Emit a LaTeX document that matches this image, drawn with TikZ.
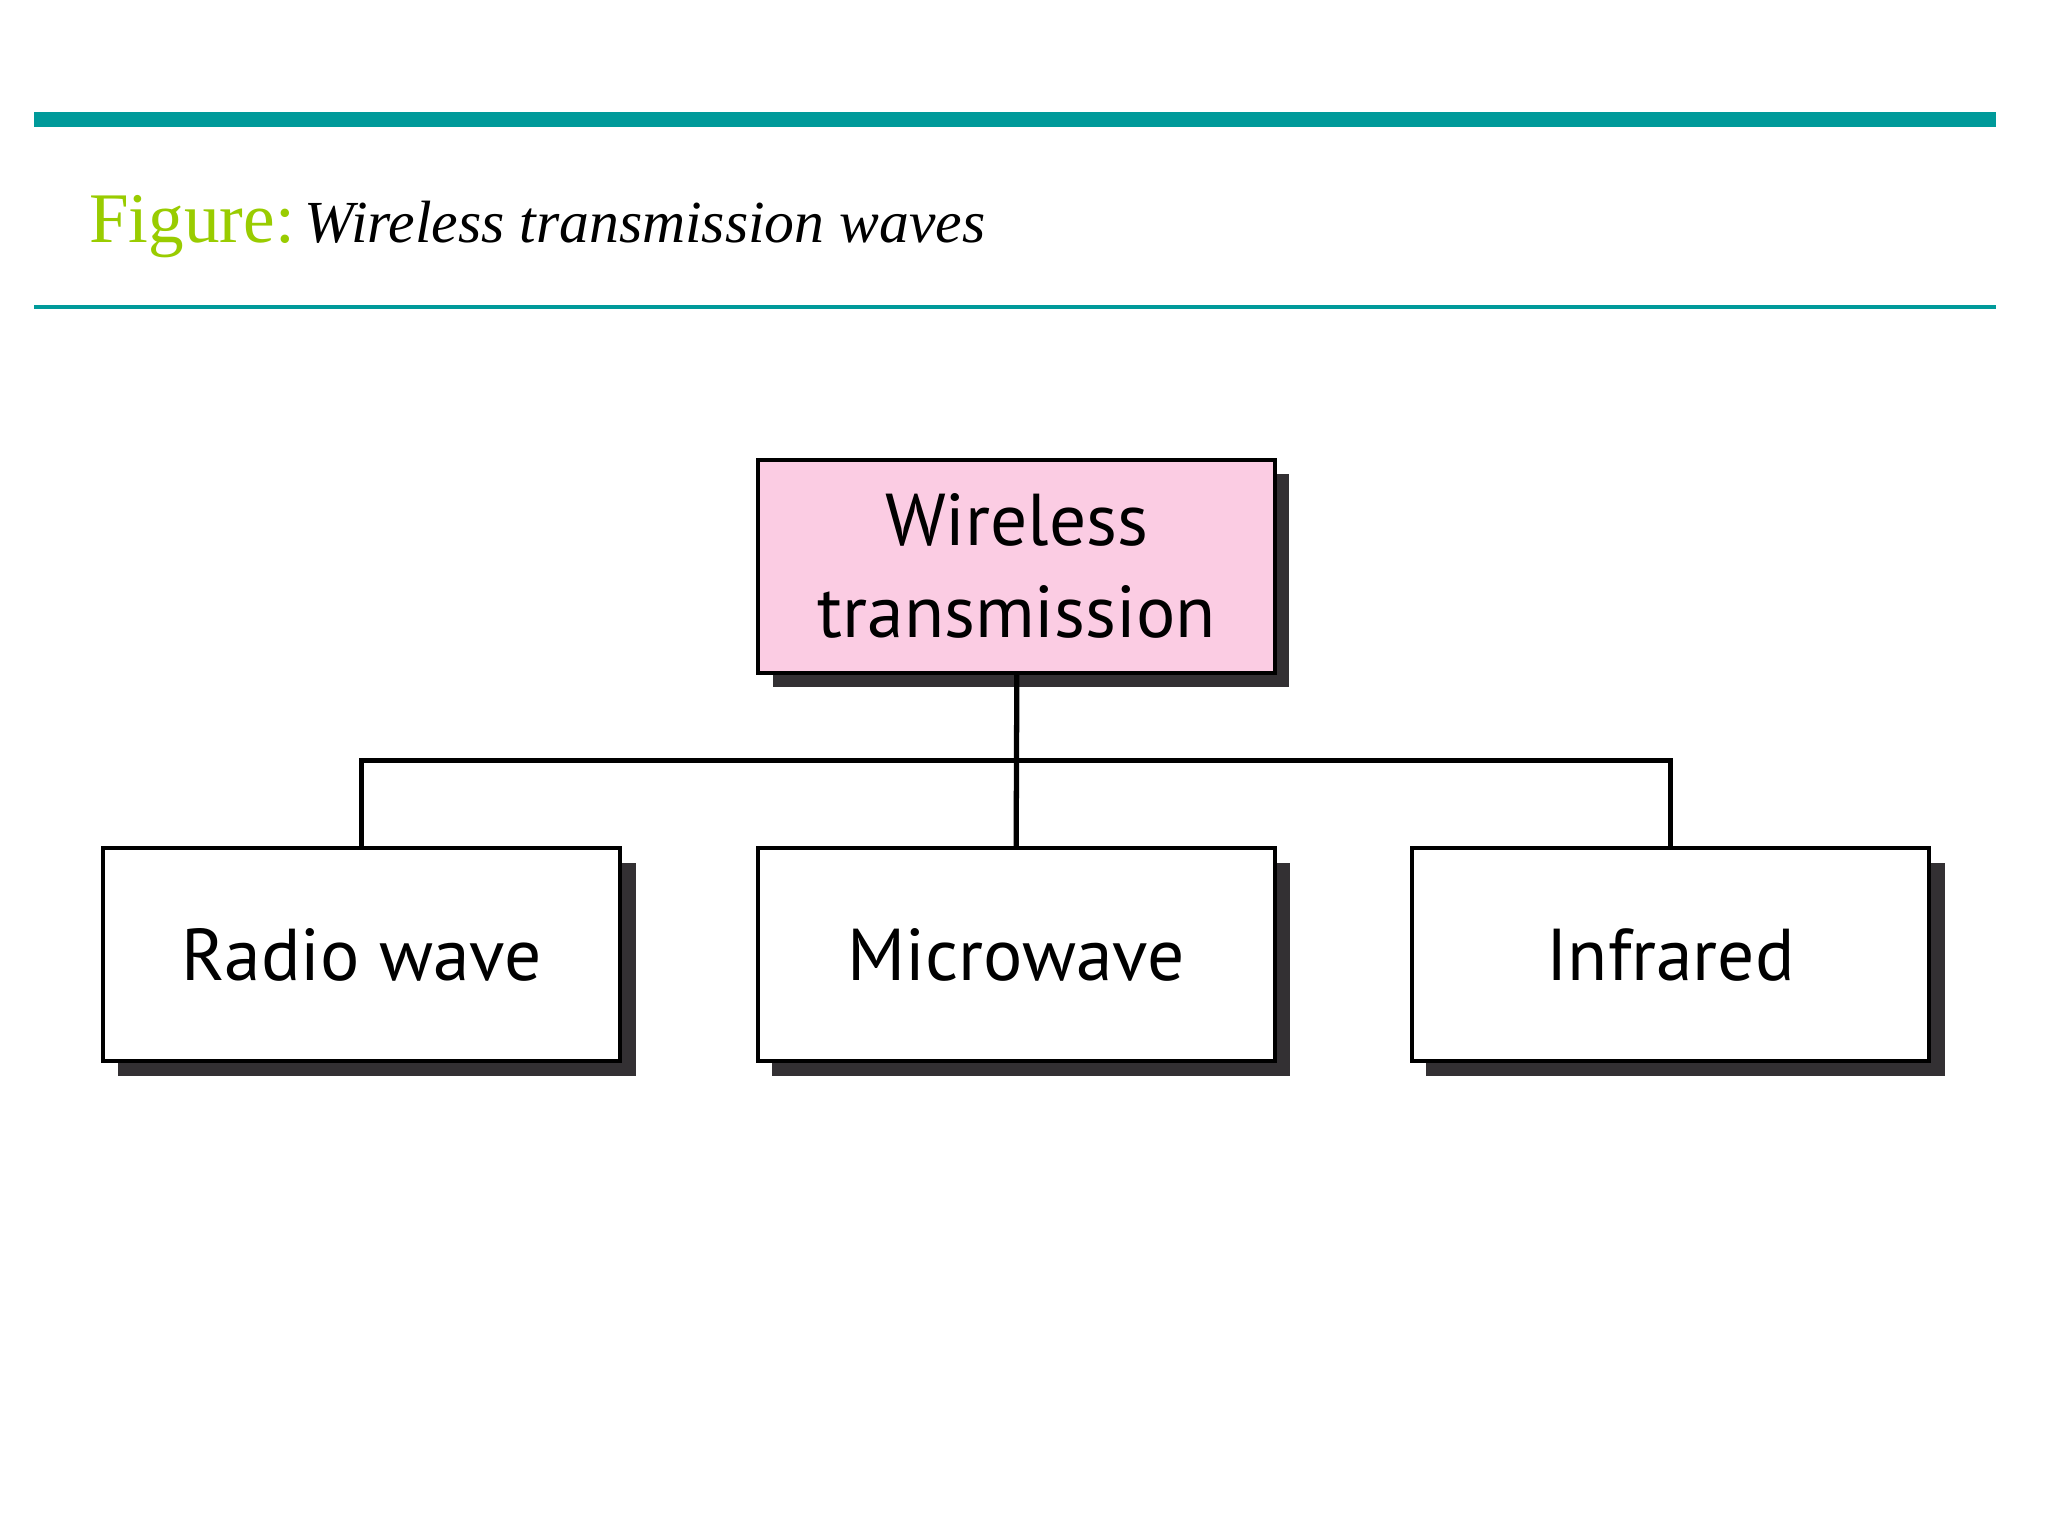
\documentclass[tikz,border=0pt]{standalone}
\usepackage{fontspec}
\setmainfont{Liberation Serif}
\newfontfamily\boxfont{PT Sans}
\definecolor{teal1}{HTML}{009A9A}
\definecolor{figgreen}{HTML}{99CC00}
\definecolor{pinkbox}{HTML}{FBCCE3}
\definecolor{shadowc}{HTML}{333033}
\tikzset{
  x=0.02cm,y=-0.02cm,
  wbox/.style={draw=black,line width=1.7pt,fill=white,minimum width=7.92cm,minimum height=3.26cm,inner sep=0pt,font=\boxfont\fontsize{32}{40}\selectfont,align=center},
  shade/.style={fill=shadowc},
  conn/.style={line width=2.3pt},
}
\begin{document}
\begin{tikzpicture}
\useasboundingbox (0,0) rectangle (1568,1176);
\fill[white] (0,0) rectangle (1568,1176);
\fill[teal1] (26,86) rectangle (1528,97);
\fill[teal1] (26,233.5) rectangle (1528,236.5);
\node[anchor=base west,inner sep=0pt,text=figgreen,font=\fontsize{31}{36}\selectfont] (fig) at (68,186) {Figure:};
\node[anchor=base west,inner sep=0pt,font=\itshape\fontsize{26}{30}\selectfont] (title) at (233,186) {Wireless transmission waves};
% shadows
\fill[shade] (592,363) rectangle (987,526);
\fill[shade] (90,661) rectangle (487,824);
\fill[shade] (591,661) rectangle (988,824);
\fill[shade] (1092,661) rectangle (1489,824);
\node[wbox,fill=pinkbox] (top) at (778.5,433.5) {Wireless\\transmission};
\node[wbox] (radio) at (277,731) {Radio wave};
\node[wbox] (micro) at (778,731) {Microwave};
\node[wbox] (infra) at (1279,731) {Infrared};
\coordinate (mid) at (778,582);
\draw[conn] (top.south) -- (micro.north);
\draw[conn] (radio.north) |- (mid) -| (infra.north);
\end{tikzpicture}
\end{document}
